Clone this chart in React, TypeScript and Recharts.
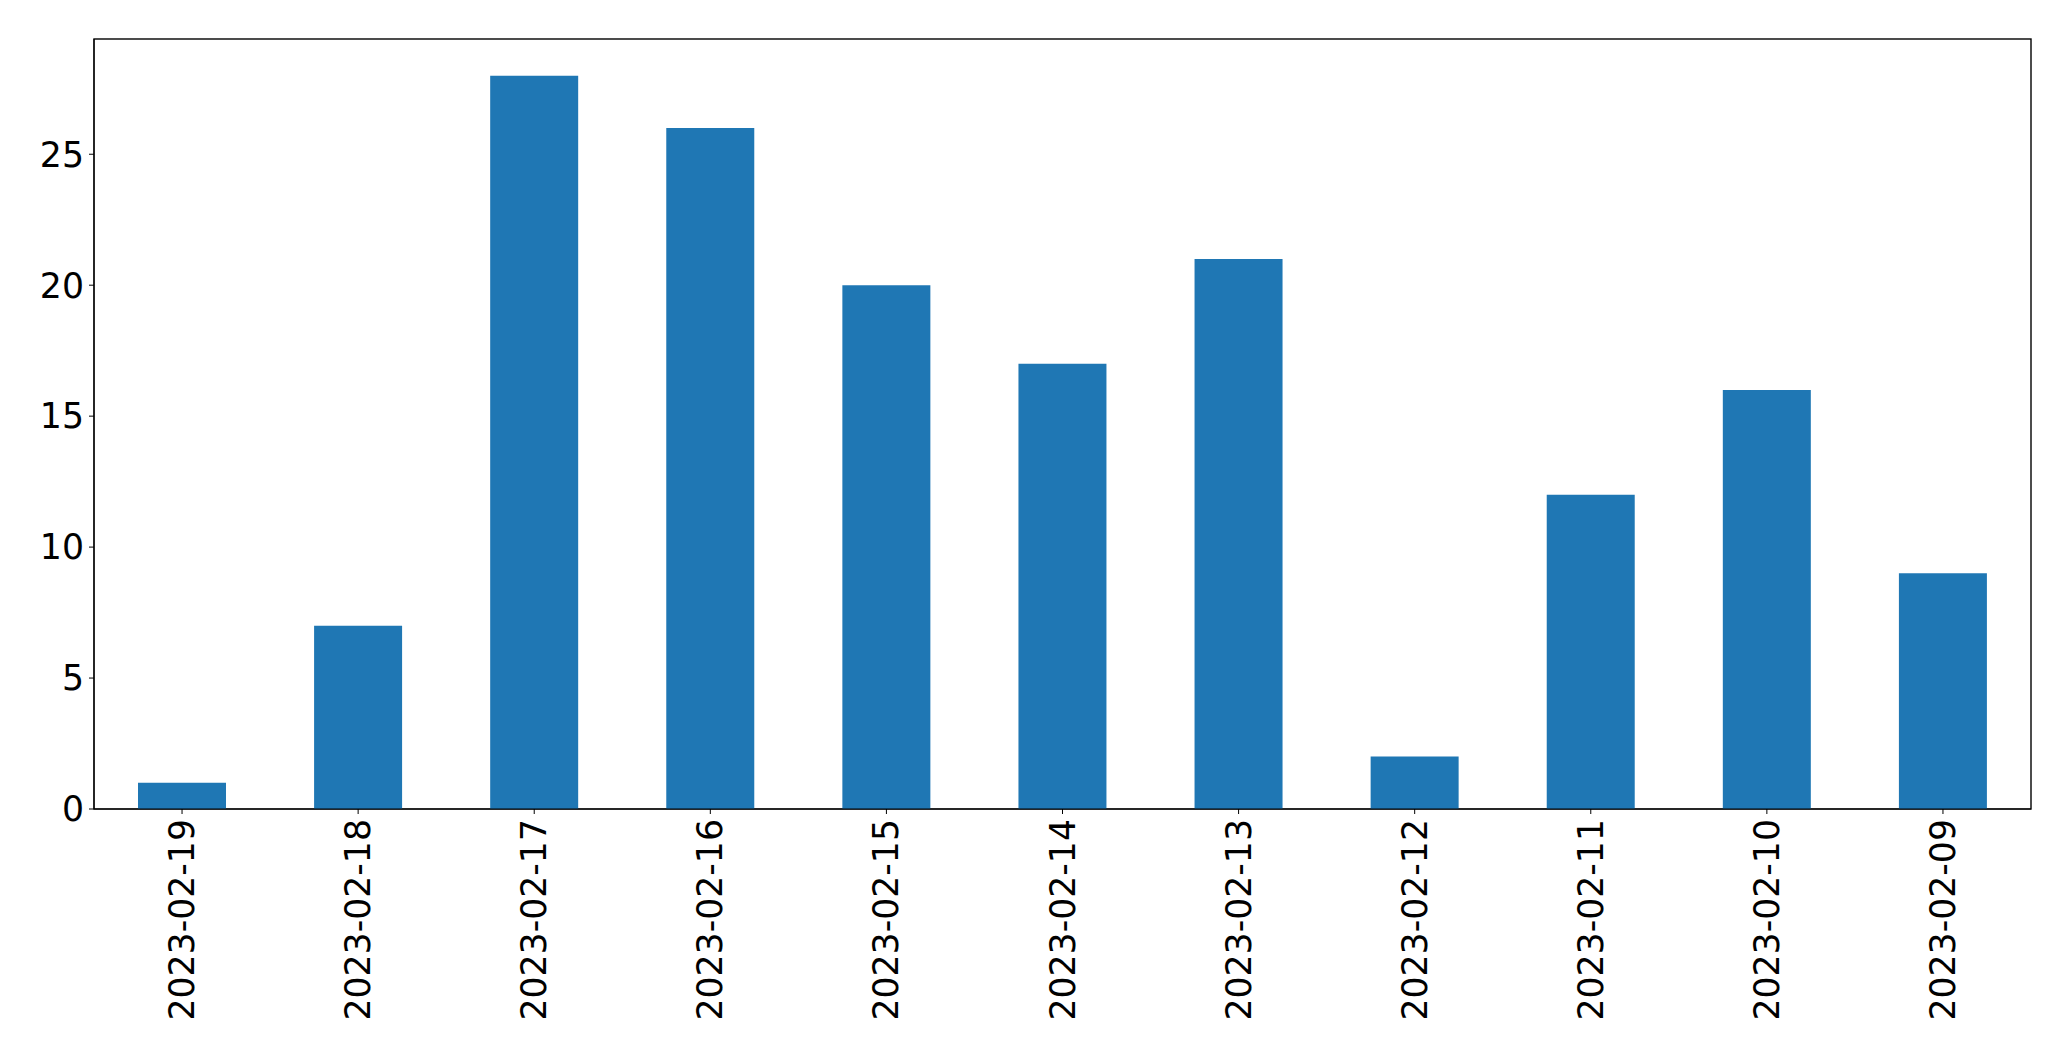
import { BarChart, Bar, XAxis, YAxis, usePlotArea } from "recharts";

const dates = [
  "2023-02-19",
  "2023-02-18",
  "2023-02-17",
  "2023-02-16",
  "2023-02-15",
  "2023-02-14",
  "2023-02-13",
  "2023-02-12",
  "2023-02-11",
  "2023-02-10",
  "2023-02-09",
];
const counts = [1, 7, 28, 26, 20, 17, 21, 2, 12, 16, 9];
const yTicks = [0, 5, 10, 15, 20, 25];

const data = dates.map((d, i) => ({ date: d, count: counts[i] }));

const font = "'DejaVu Sans', sans-serif";

const DateTick = (props: any) => {
  const { x, y, payload } = props;
  return (
    <text
      x={x}
      y={y}
      transform={`rotate(-90, ${x}, ${y})`}
      textAnchor="end"
      dominantBaseline="central"
      fontSize={34.7}
      fontFamily={font}
      fill="#000"
    >
      {payload.value}
    </text>
  );
};

// box around the plot area, like matplotlib spines
const Frame = () => {
  const area = usePlotArea();
  if (!area) return null;
  return (
    <rect
      x={area.x}
      y={area.y}
      width={area.width}
      height={area.height}
      fill="none"
      stroke="#000"
      strokeWidth={1.4}
    />
  );
};

export default function App() {
  return (
    <div style={{ position: "absolute", left: 0, top: 0, background: "#fff" }}>
      <BarChart
        width={2071}
        height={1061}
        data={data}
        margin={{ top: 39, right: 40, left: 0, bottom: 0 }}
      >
        <XAxis
          dataKey="date"
          height={252}
          interval={0}
          stroke="#000"
          tickSize={5}
          tickMargin={5}
          tick={DateTick}
        />
        <YAxis
          width={94}
          domain={[0, 29.4]}
          ticks={yTicks}
          stroke="#000"
          tickSize={5}
          tickMargin={5}
          tick={{ fontSize: 34.7, fontFamily: font, fill: "#000" }}
        />
        <Bar dataKey="count" fill="#1f77b4" barSize={88} isAnimationActive={false} />
        <Frame />
      </BarChart>
    </div>
  );
}
